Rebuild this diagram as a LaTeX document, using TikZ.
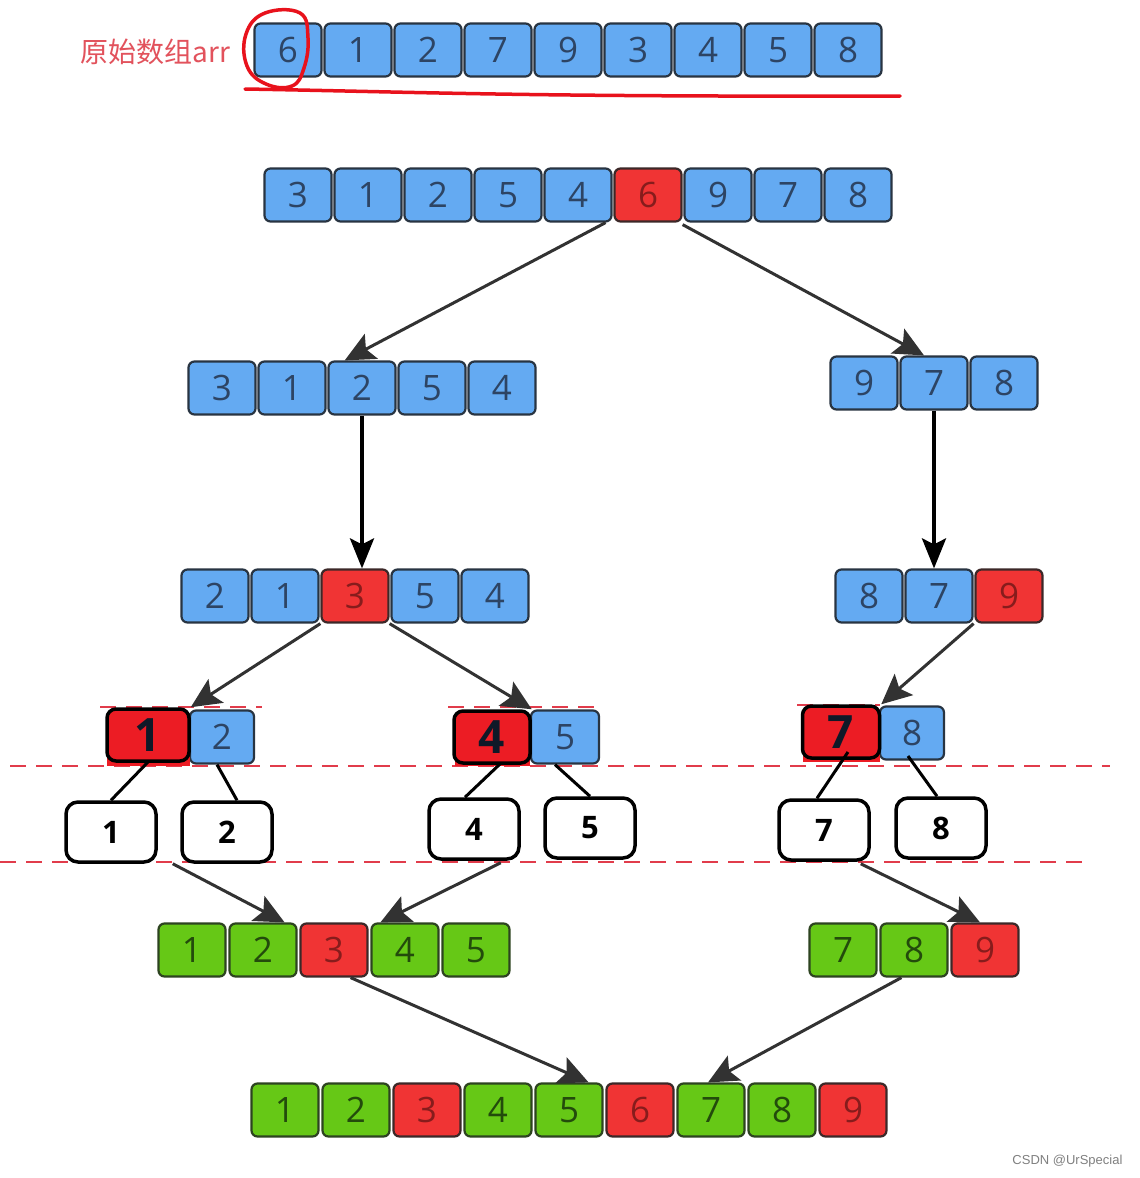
\documentclass[tikz,border=0pt]{standalone}
\usepackage{fontspec}
\setmainfont{Open Sans}
\newfontfamily\cjk{Noto Sans CJK SC}
\newfontfamily\labfont{Liberation Sans}
\usetikzlibrary{arrows.meta,calc}
\definecolor{cB}{RGB}{100,170,242}
\definecolor{tB}{RGB}{45,68,100}
\definecolor{dB}{RGB}{40,52,66}
\definecolor{cR}{RGB}{240,52,52}
\definecolor{tR}{RGB}{135,28,28}
\definecolor{dR}{RGB}{60,40,40}
\definecolor{cG}{RGB}{102,200,22}
\definecolor{tG}{RGB}{35,75,12}
\definecolor{dG}{RGB}{45,68,32}
\definecolor{redK}{RGB}{236,28,36}
\definecolor{navyK}{RGB}{15,25,40}
\definecolor{arrC}{RGB}{50,50,50}
\definecolor{dashC}{RGB}{225,60,75}
\definecolor{penC}{RGB}{232,18,28}
\definecolor{labC}{RGB}{226,82,92}
\tikzset{
  cell/.style={line width=2.2pt, rounded corners=6pt, minimum width=67pt,
    minimum height=53pt, inner sep=0pt, font=\fontsize{35}{40}\selectfont},
  bigcell/.style={fill=redK, draw=black, line width=3.5pt, rounded corners=9pt,
    minimum height=52pt, inner sep=0pt, text=navyK, font=\fontsize{46}{50}\selectfont\bfseries},
  wbox/.style={draw=black, line width=3.5pt, rounded corners=12pt, fill=white,
    minimum width=90pt, minimum height=60pt, inner sep=0pt, font=\fontsize{31}{36}\selectfont\bfseries},
  arr/.style={draw=arrC, line width=3pt, -{Stealth[length=30pt,width=28pt,inset=6pt]}},
  varr/.style={draw=black, line width=4pt, -{Stealth[length=30pt,width=24pt,inset=6pt]}},
  link/.style={draw=black, line width=3pt},
  rdash/.style={draw=dashC, line width=1.6pt, dash pattern=on 16pt off 10pt},
  pen/.style={draw=penC, line width=3.5pt, line cap=round, line join=round},
}
\begin{document}
\begin{tikzpicture}[x=1pt,y=-1pt]
\useasboundingbox[fill=white] (0,0) rectangle (1140,1178);

% red dashed guide lines
\draw[rdash] (10,766) -- (1110,766);
\draw[rdash] (0,862) -- (1090,862);
\draw[rdash] (100,707) -- (262,707);
\draw[rdash] (448,707) -- (600,707);
\draw[rdash] (797,705) -- (880,705);

% original array
\node[font=\cjk\fontsize{28}{30}\selectfont, text=labC, anchor=east] (title) at (234,52) {原始数组arr};
\foreach \v [count=\i] in {6,1,2,7,9,3,4,5,8}
  \node[cell, fill=cB, draw=dB, text=tB] (o\i) at ({288+70*(\i-1)},50) {\v};

% row a
\foreach \v/\f [count=\i] in {3/B,1/B,2/B,5/B,4/B,6/R,9/B,7/B,8/B}
  \node[cell, fill=c\f, draw=d\f, text=t\f] (a\i) at ({298+70*(\i-1)},195) {\v};
% row b, c
\foreach \v [count=\i] in {3,1,2,5,4}
  \node[cell, fill=cB, draw=dB, text=tB] (b\i) at ({222+70*(\i-1)},388) {\v};
\foreach \v [count=\i] in {9,7,8}
  \node[cell, fill=cB, draw=dB, text=tB] (c\i) at ({864+70*(\i-1)},383) {\v};
% row d, e
\foreach \v/\f [count=\i] in {2/B,1/B,3/R,5/B,4/B}
  \node[cell, fill=c\f, draw=d\f, text=t\f] (d\i) at ({215+70*(\i-1)},596) {\v};
\foreach \v/\f [count=\i] in {8/B,7/B,9/R}
  \node[cell, fill=c\f, draw=d\f, text=t\f] (e\i) at ({869+70*(\i-1)},596) {\v};

% pairs
\node[cell, fill=cB, draw=dB, text=tB, minimum width=64pt] (f2) at (222,737) {2};
\node[cell, fill=cB, draw=dB, text=tB, minimum width=68pt] (g2) at (565,737) {5};
\node[cell, fill=cB, draw=dB, text=tB, minimum width=64pt] (h2) at (912,733) {8};
\fill[redK] (107,716) rectangle (190,766);
\fill[redK] (455,716) rectangle (530,766);
\fill[redK] (803,712) rectangle (880,762);
\node[bigcell, minimum width=82pt] (f1) at (148,735) {1};
\node[bigcell, minimum width=76pt] (g1) at (492,737) {4};
\node[bigcell, minimum width=77pt] (h1) at (841,732) {7};

% white boxes
\node[wbox] (w1) at (111,832) {1};
\node[wbox] (w2) at (227,832) {2};
\node[wbox] (w4) at (474,829) {4};
\node[wbox] (w5) at (590,828) {5};
\node[wbox] (w7) at (824,830) {7};
\node[wbox] (w8) at (941,828) {8};

% green rows
\foreach \v/\f [count=\i] in {1/G,2/G,3/R,4/G,5/G}
  \node[cell, fill=c\f, draw=d\f, text=t\f] (k\i) at ({192+71*(\i-1)},950) {\v};
\foreach \v/\f [count=\i] in {7/G,8/G,9/R}
  \node[cell, fill=c\f, draw=d\f, text=t\f] (m\i) at ({843+71*(\i-1)},950) {\v};
\foreach \v/\f [count=\i] in {1/G,2/G,3/R,4/G,5/G,6/R,7/G,8/G,9/R}
  \node[cell, fill=c\f, draw=d\f, text=t\f] (n\i) at ({285+71*(\i-1)},1110) {\v};

% arrows
\draw[arr] ($(a5.south east)+(-7,0)$) -- ($(b3.north)!0.5!(b3.north west)$);
\draw[arr] ($(a6.south east)+(0,2)$) -- ($(c2.north)+(-10,0)$);
\draw[varr] (b3.south) -- (b3.south |- d3.north);
\draw[varr] (c2.south) -- (c2.south |- e2.north);
\draw[arr] (d3.south west) -- (f1.north east);
\draw[arr] (d3.south east) -- (g1.north east);
\draw[arr] (e2.south east) -- (h1.north east);

% links to boxes
\draw[link] ($(f1.center)+(0,27)$) -- (w1.north);
\draw[link] ($(f2.south)+(-5,0)$) -- ($(w2.north)+(10,0)$);
\draw[link] ($(g1.center)+(8,27)$) -- ($(w4.north)+(-9,0)$);
\draw[link] ($(g2.south)+(-10,0)$) -- (w5.north);
\draw[link] ($(h1.center)+(7,20)$) -- ($(w7.north)+(-7,0)$);
\draw[link] ($(h2.center)+(-4,23)$) -- ($(w8.north)+(-4,0)$);

\draw[arr] ($(w1.south east)+(15,0)$) -- ($(k2.north east)+(-13,0)$);
\draw[arr] ($(w4.south east)+(-20,2)$) -- ($(k4.north west)+(10,0)$);
\draw[arr] ($(w7.south east)+(-10,2)$) -- ($(m3.north)+(-5,0)$);
\draw[arr] ($(k3.south east)+(-18,0)$) -- ($(n5.north east)+(-15,0)$);
\draw[arr] ($(m2.south west)+(22,0)$) -- ($(n7.north)+(-3,0)$);

% red pen marks
\draw[pen] plot[smooth cycle, tension=0.7] coordinates
  {(265,13) (300,13) (308,38) (304,68) (292,86) (266,84) (247,66) (246,34)};
\draw[pen] (245,89) .. controls (420,92) and (520,97) .. (900,96);

\node[font=\labfont\fontsize{13}{15}\selectfont, text=gray, anchor=east] (wm) at (1126,1161) {CSDN @UrSpecial};
\end{tikzpicture}
\end{document}
